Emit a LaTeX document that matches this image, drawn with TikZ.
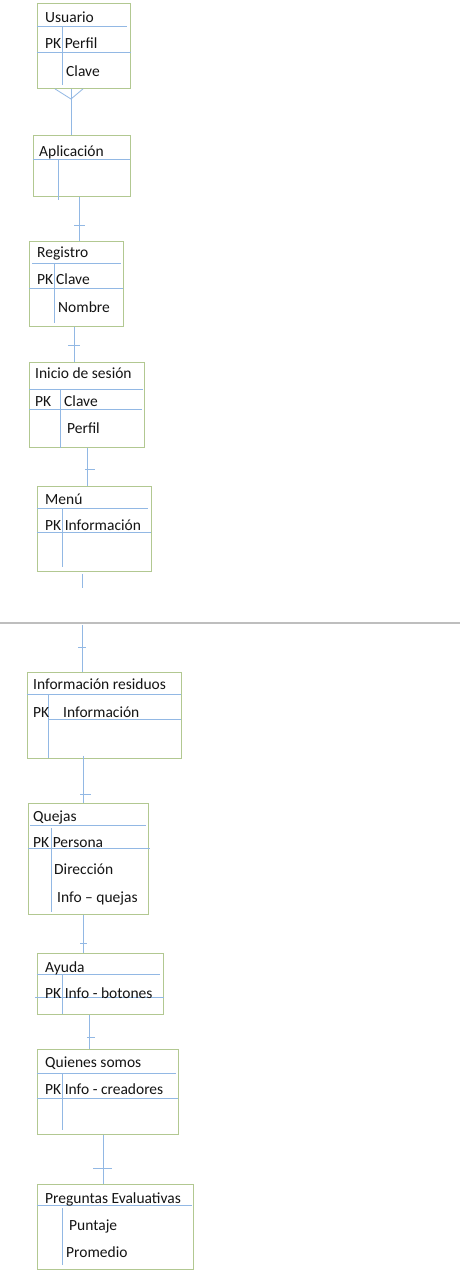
\documentclass[tikz,border=0pt]{standalone}
\usepackage{fontspec}
\setmainfont{Carlito}
\begin{document}
\begin{tikzpicture}[x=1pt,y=-1pt,
  ent/.style={draw=boxgreen,line width=0.9pt,inner sep=0pt,anchor=north west},
  rule/.style={draw=lineblue,line width=0.8pt},
  conn/.style={draw=lineblue,line width=0.8pt},
  lbl/.style={anchor=base west,inner sep=0pt,text=txt,font=\fontsize{15.5}{18}\selectfont}]
\definecolor{boxgreen}{RGB}{178,200,145}
\definecolor{lineblue}{RGB}{146,184,228}
\definecolor{txt}{RGB}{20,20,20}
\definecolor{sepgray}{RGB}{190,190,190}
\useasboundingbox (0,0) rectangle (460,1280);
\fill[white] (0,0) rectangle (460,1280);
% ---------------- Usuario
\node[ent,minimum width=93pt,minimum height=85pt] (usuario) at (37,3) {};
\draw[rule] (37,26) -- (127,26);
\draw[rule] (37,52) -- (131,52);
\draw[rule] (62,26) -- (62,85);
\node[lbl] (tusu) at (45,22) {Usuario};
\node[lbl] (tusu1) at (45,48) {PK Perfil};
\node[lbl] (tusu2) at (66,76) {Clave};
% ---------------- Aplicación
\node[ent,minimum width=97pt,minimum height=61pt] (aplic) at (33,135) {};
\draw[rule] (33,159) -- (130,159);
\draw[rule] (58,159) -- (58,200);
\node[lbl] (tapl) at (39,156) {Aplicación};
% crow's foot Usuario - Aplicación
\coordinate (cf) at (71,99);
\draw[conn] ([xshift=18pt]usuario.south west) -- (cf) -- ([xshift=46pt]usuario.south west);
\draw[conn] ([xshift=34pt]usuario.south west) -- ([xshift=38pt]aplic.north west);
% ---------------- Registro
\node[ent,minimum width=94pt,minimum height=85pt] (regis) at (29,241) {};
\draw[rule] (32,263) -- (121,263);
\draw[rule] (29,288) -- (123,288);
\draw[rule] (54,263) -- (54,323);
\node[lbl] (treg) at (37,257) {Registro};
\node[lbl] (treg1) at (37,284) {PK};
\node[lbl] (treg2) at (56,284) {Clave};
\node[lbl] (treg3) at (58,312) {Nombre};
\draw[conn] ([xshift=46pt]aplic.south west) -- ([xshift=50pt]regis.north west);
\draw[conn] (74,225) -- (85,225);
% ---------------- Inicio de sesión
\node[ent,minimum width=115pt,minimum height=85pt] (inicio) at (29,362) {};
\draw[rule] (29,389) -- (143,389);
\draw[rule] (29,409) -- (142,409);
\draw[rule] (60,389) -- (60,448);
\node[lbl] (tini) at (35,378) {Inicio de sesión};
\node[lbl] (tini1) at (35,406) {PK};
\node[lbl] (tini2) at (64,406) {Clave};
\node[lbl] (tini3) at (67,433) {Perfil};
\draw[conn] ([xshift=45pt]regis.south west) -- ([xshift=45pt]inicio.north west);
\draw[conn] (68,345) -- (80,345);
% ---------------- Menú
\node[ent,minimum width=114pt,minimum height=85pt] (menu) at (37,486) {};
\draw[rule] (37,508) -- (148,508);
\draw[rule] (37,532) -- (151,532);
\draw[rule] (62,508) -- (62,567);
\node[lbl] (tmen) at (45,504) {Menú};
\node[lbl] (tmen1) at (45,530) {PK Información};
\draw[conn] ([xshift=58pt]inicio.south west) -- ([xshift=50pt]menu.north west);
\draw[conn] (85,469) -- (95,469);
\coordinate (menuend) at (82,588);
\draw[conn] ([xshift=45pt,yshift=-2pt]menu.south west) -- (menuend);
% ---------------- page separator
\coordinate (sepL) at (0,623);
\coordinate (sepR) at (460,623);
\draw[sepgray,line width=1.6pt] (sepL) -- (sepR);
% ---------------- Información residuos
\node[ent,minimum width=154pt,minimum height=86pt] (resid) at (27,672) {};
\draw[rule] (27,694) -- (181,694);
\draw[rule] (48,719) -- (181,719);
\draw[rule] (48,694) -- (48,758);
\node[lbl] (tres) at (33,689) {Información residuos};
\node[lbl] (tres1) at (33,717) {PK};
\node[lbl] (tres2) at (63,717) {Información};
\coordinate (resstart) at (82,625);
\draw[conn] (resstart) -- ([xshift=55pt]resid.north west);
\draw[conn] (78,647) -- (86,647);
% ---------------- Quejas
\node[ent,minimum width=120pt,minimum height=111pt] (quejas) at (28,803) {};
\draw[rule] (30,825) -- (146,825);
\draw[rule] (28,848) -- (150,848);
\draw[rule] (51,828) -- (51,912);
\node[lbl] (tque) at (33,821) {Quejas};
\node[lbl] (tque1) at (33,847) {PK Persona};
\node[lbl] (tque2) at (54,874) {Dirección};
\node[lbl] (tque3) at (57,902) {Info – quejas};
\draw[conn] ([xshift=56pt,yshift=3pt]resid.south west) -- ([xshift=55pt]quejas.north west);
\draw[conn] (80,794) -- (91,794);
% ---------------- Ayuda
\node[ent,minimum width=126pt,minimum height=61pt] (ayuda) at (37,953) {};
\draw[rule] (37,974) -- (160,974);
\draw[rule] (35,997) -- (164,997);
\draw[rule] (62,974) -- (62,1014);
\node[lbl] (tayu) at (45,972) {Ayuda};
\node[lbl] (tayu1) at (45,998) {PK Info - botones};
\draw[conn] ([xshift=55pt]quejas.south west) -- ([xshift=46pt]ayuda.north west);
\draw[conn] (80,943) -- (87,943);
% ---------------- Quienes somos
\node[ent,minimum width=141pt,minimum height=85pt] (quien) at (37,1049) {};
\draw[rule] (37,1073) -- (176,1073);
\draw[rule] (37,1098) -- (178,1098);
\draw[rule] (62,1073) -- (62,1130);
\node[lbl] (tqui) at (45,1067) {Quienes somos};
\node[lbl] (tqui1) at (45,1094) {PK Info - creadores};
\draw[conn] ([xshift=52pt]ayuda.south west) -- ([xshift=52pt]quien.north west);
\draw[conn] (87,1037) -- (95,1037);
% ---------------- Preguntas Evaluativas
\node[ent,minimum width=156pt,minimum height=85pt] (pregun) at (37,1184) {};
\draw[rule] (37,1205) -- (192,1205);
\draw[rule] (62,1208) -- (62,1265);
\node[lbl] (tpre) at (45,1203) {Preguntas Evaluativas};
\node[lbl] (tpre1) at (69,1230) {Puntaje};
\node[lbl] (tpre2) at (66,1257) {Promedio};
\draw[conn] ([xshift=66pt]quien.south west) -- ([xshift=66pt]pregun.north west);
\draw[conn] (93,1168) -- (112,1168);
\end{tikzpicture}
\end{document}
